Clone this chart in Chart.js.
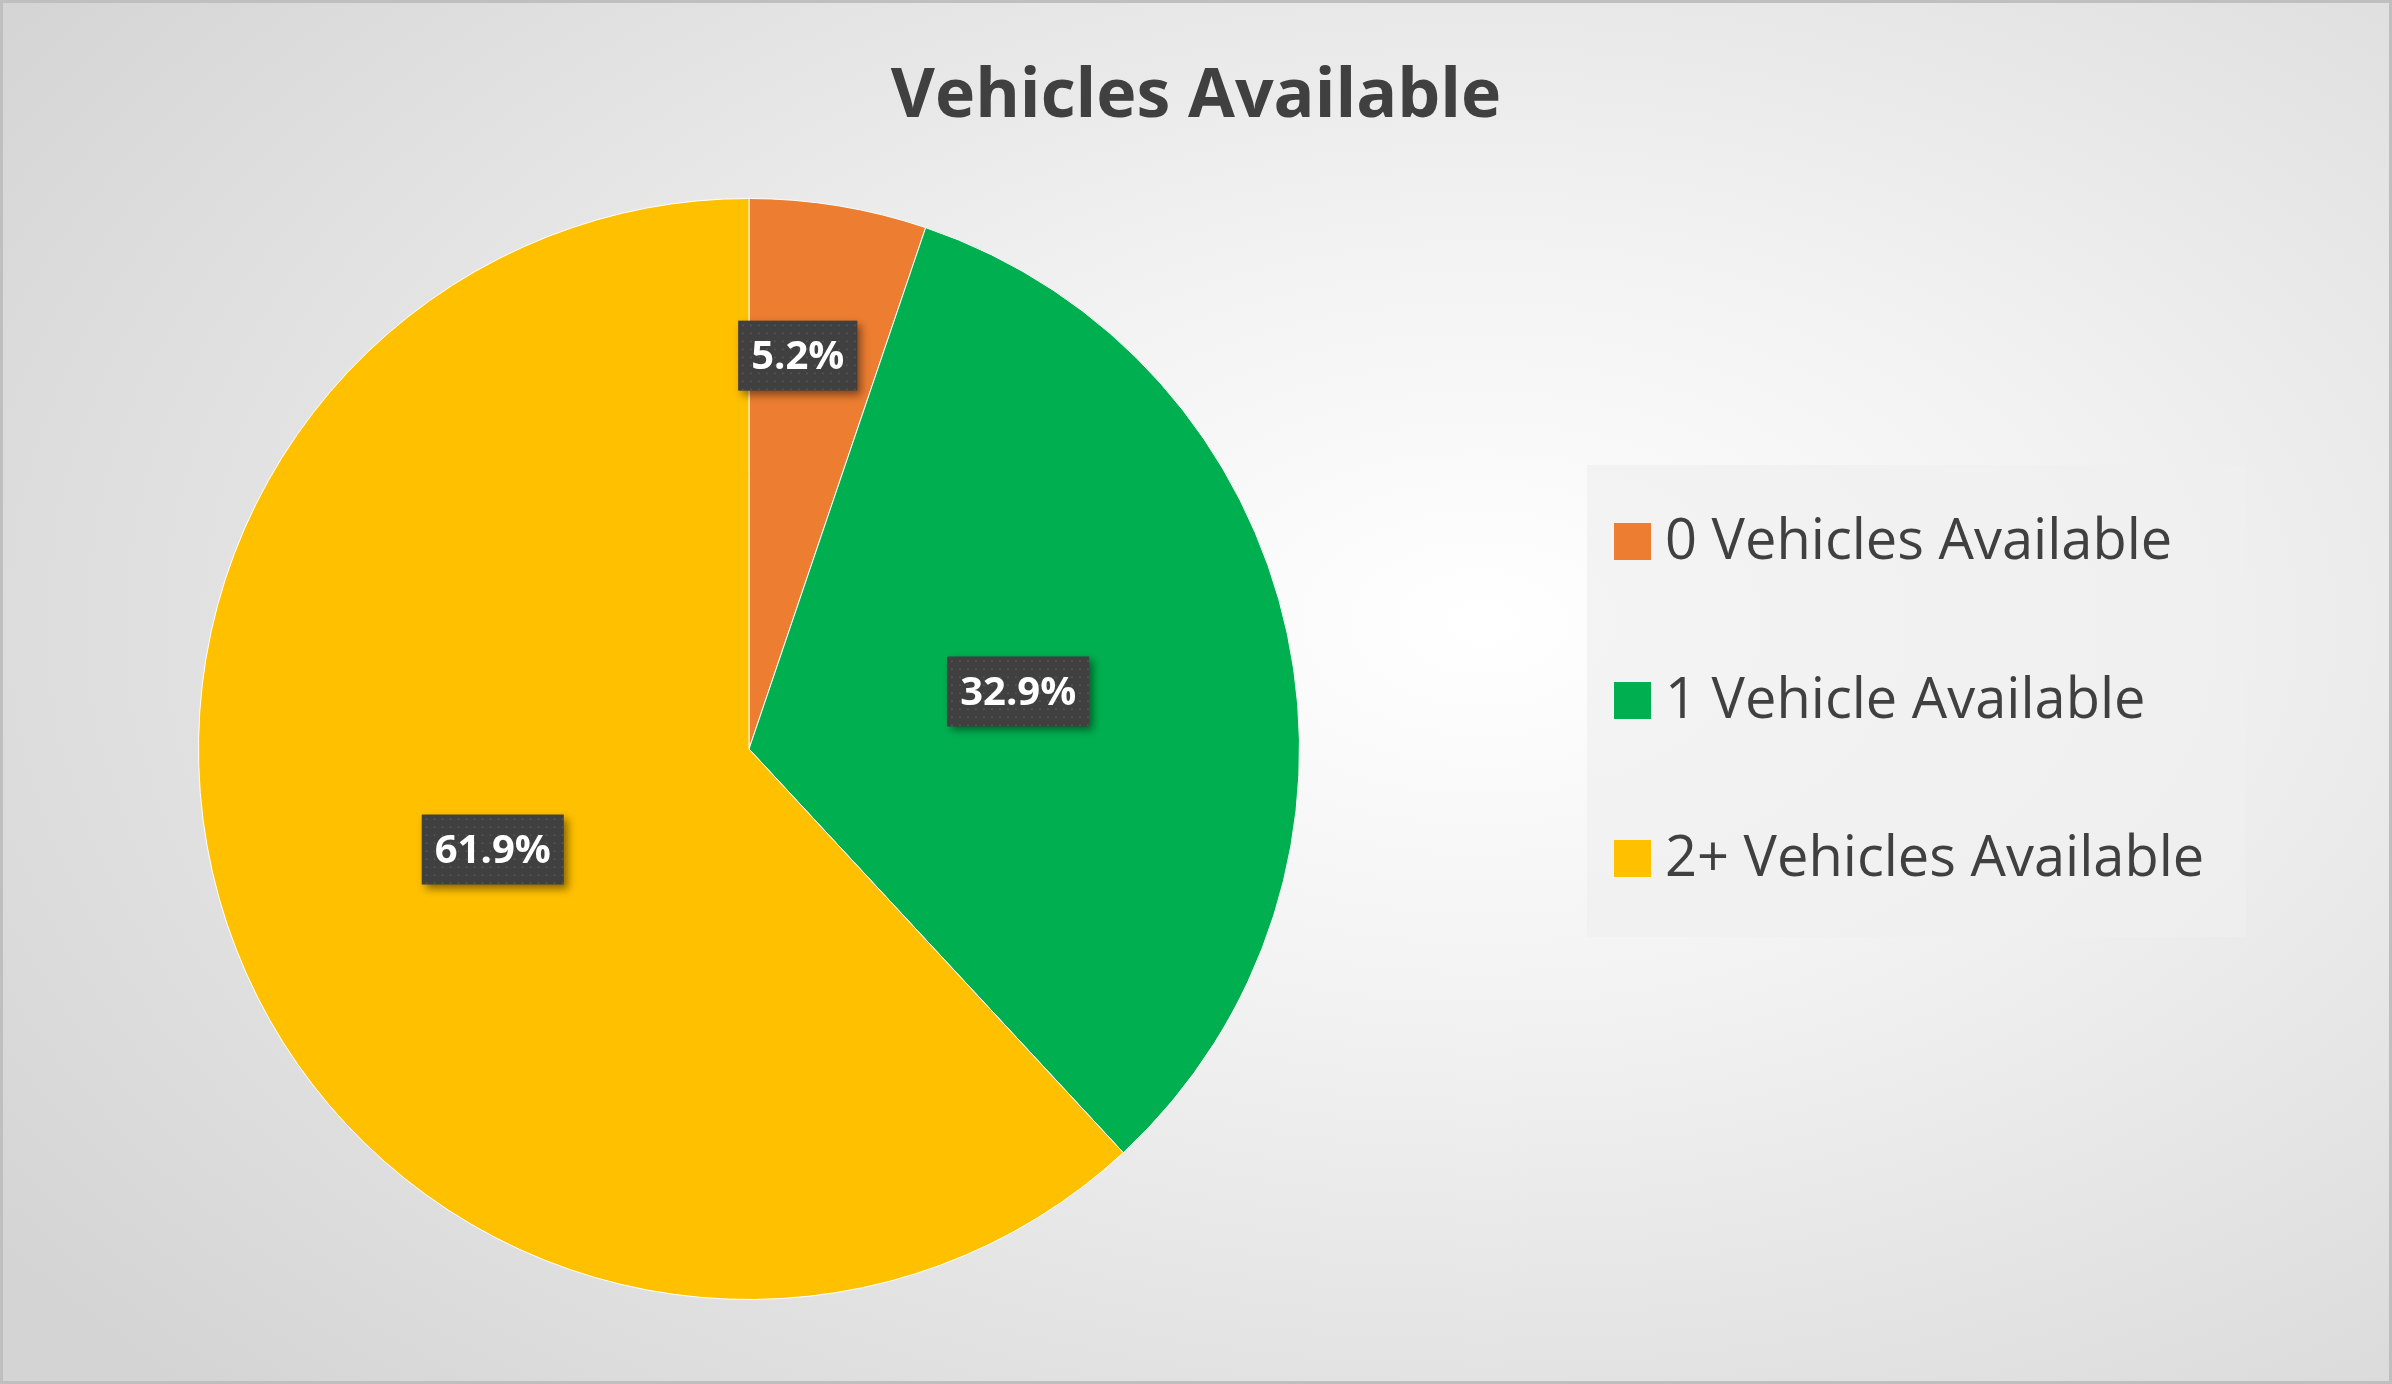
<!DOCTYPE html>
<html>
<head>
<meta charset="utf-8">
<script src="https://cdn.jsdelivr.net/npm/chart.js@4"></script>
<style>
  html, body { margin: 0; padding: 0; }
  body {
    width: 2392px; height: 1384px; position: relative; overflow: hidden;
    font-family: 'Open Sans', sans-serif;
    background: radial-gradient(ellipse 75% 80% at 62% 45%, #ffffff 0%, #f2f2f2 35%, #d4d4d4 100%);
  }
  #frame { position: absolute; inset: 0; border: 3px solid #bfbfbf; box-sizing: border-box; }
  #title {
    position: absolute; left: 0; width: 2392px; top: 44px; text-align: center;
    font-size: 68px; font-weight: bold; color: #404040;
  }
  #legend {
    position: absolute; left: 1587px; top: 465px; width: 659px; height: 472px;
    background: rgba(240,240,240,0.7);
  }
  .item { position: absolute; left: 27px; font-size: 56px; color: #404040; line-height: 1; }
  .item span.sq { display: inline-block; width: 37px; height: 37px; margin-right: 14px; vertical-align: -1px; }
  canvas { position: absolute; left: 0; top: 0; }
</style>
</head>
<body>
<div id="frame"></div>
<canvas id="pieChart" width="2392" height="1384"></canvas>
<div id="title">Vehicles Available</div>
<div id="legend"></div>
<script>
const categories = ['0 Vehicles Available', '1 Vehicle Available', '2+ Vehicles Available'];
const shares = [5.2, 32.9, 61.9];
const colors = ['#ED7D31', '#00B050', '#FFC000'];
const labelRadius = [0.72, 0.5, 0.5];

// legend rows
const legendEl = document.getElementById('legend');
const rowTops = [44, 203, 361];
categories.forEach((c, i) => {
  const d = document.createElement('div');
  d.className = 'item';
  d.style.top = rowTops[i] + 'px';
  d.innerHTML = `<span class="sq" style="background:${colors[i]}"></span>${c}`;
  legendEl.appendChild(d);
});

// dark data-label boxes like the Excel original
const dataLabels = {
  id: 'dataLabels',
  afterDatasetsDraw(chart) {
    const ctx = chart.ctx;
    chart.getDatasetMeta(0).data.forEach((arc, i) => {
      const p = arc.getProps(['x', 'y', 'startAngle', 'endAngle', 'outerRadius']);
      const mid = (p.startAngle + p.endAngle) / 2 - (i === 0 ? 0.04 : 0);
      const r = p.outerRadius * labelRadius[i];
      const x = p.x + Math.cos(mid) * r;
      const y = p.y + Math.sin(mid) * r;
      const txt = shares[i].toFixed(1) + '%';
      ctx.save();
      ctx.font = "bold 40px 'Open Sans', sans-serif";
      const w = ctx.measureText(txt).width + 26;
      const h = 70;
      ctx.shadowColor = 'rgba(0,0,0,0.45)';
      ctx.shadowBlur = 8;
      ctx.shadowOffsetX = 4;
      ctx.shadowOffsetY = 4;
      ctx.fillStyle = '#404040';
      ctx.fillRect(x - w / 2, y - h / 2, w, h);
      ctx.shadowColor = 'transparent';
      ctx.fillStyle = 'rgba(110,110,110,0.6)';
      for (let gx = x - w / 2 + 4; gx < x + w / 2; gx += 8)
        for (let gy = y - h / 2 + 4; gy < y + h / 2; gy += 8)
          ctx.fillRect(gx, gy, 1.5, 1.5);
      ctx.fillStyle = '#ffffff';
      ctx.textAlign = 'center';
      ctx.textBaseline = 'middle';
      ctx.fillText(txt, x, y + 2);
      ctx.restore();
    });
  }
};

new Chart(document.getElementById('pieChart').getContext('2d'), {
  type: 'pie',
  data: {
    labels: categories,
    datasets: [{
      data: shares,
      backgroundColor: colors,
      borderColor: '#ffffff',
      borderWidth: 1
    }]
  },
  options: {
    responsive: false,
    animation: false,
    layout: { padding: { left: 198, right: 1092, top: 198, bottom: 84 } },
    plugins: {
      legend: { display: false },
      title: { display: false },
      tooltip: { enabled: false }
    }
  },
  plugins: [dataLabels]
});
</script>
</body>
</html>
